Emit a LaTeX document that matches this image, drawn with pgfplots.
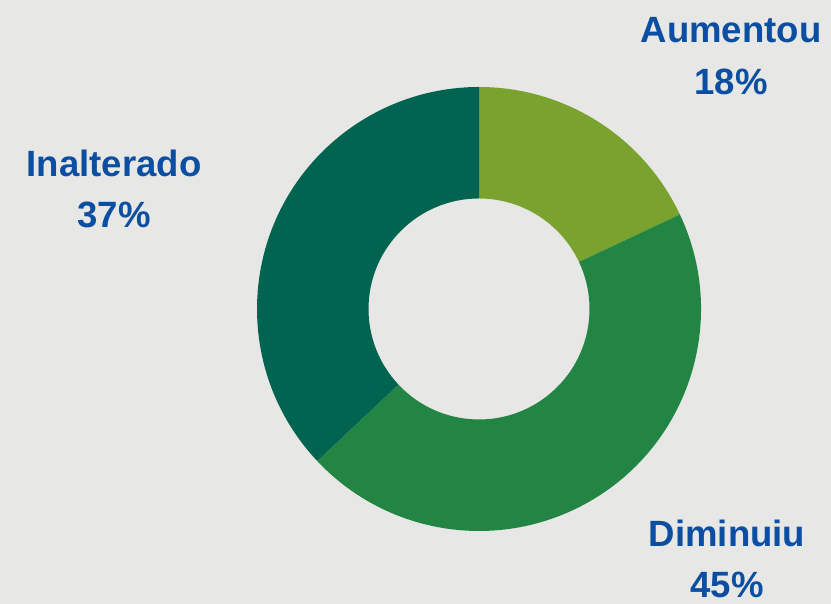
\documentclass[border=0pt]{standalone}
\usepackage{pgfplots}
\pgfplotsset{compat=1.18}
\usepackage{fontspec}
\setmainfont{Liberation Sans}
\definecolor{bg}{HTML}{E7E7E5}
\definecolor{cA}{HTML}{7AA22F}
\definecolor{cD}{HTML}{238544}
\definecolor{cI}{HTML}{006450}
\definecolor{tb}{HTML}{0B4EA2}
% values (percent)
\def\vA{18}\def\vD{45}\def\vI{37}
\pgfmathsetmacro\aS{90}
\pgfmathsetmacro\aA{90-3.6*\vA}
\pgfmathsetmacro\aD{\aA-3.6*\vD}
\pgfmathsetmacro\aI{\aD-3.6*\vI}
\def\cx{479}\def\cy{295}\def\ro{222}\def\ri{110.5}
\newcommand{\seg}[3]{%
  \fill[#1] (axis cs:{\cx+\ro*cos(#2)},{\cy+\ro*sin(#2)}) arc[start angle=#2, end angle=#3, radius=2.22cm]
    -- (axis cs:{\cx+\ri*cos(#3)},{\cy+\ri*sin(#3)}) arc[start angle=#3, end angle=#2, radius=1.105cm] -- cycle;}
\begin{document}
\begin{tikzpicture}
\begin{axis}[
  width=8.31cm, height=6.04cm, scale only axis,
  xmin=0, xmax=831, ymin=0, ymax=604,
  hide axis, clip=false,
]
\fill[bg] (axis cs:0,0) rectangle (axis cs:831,604);
\seg{cA}{\aS}{\aA}
\seg{cD}{\aA}{\aD}
\seg{cI}{\aD}{\aI}
\begin{scope}[every node/.style={text=tb, font=\fontsize{10.4}{12.5}\selectfont\bfseries, align=center, inner sep=0pt}]
\node at (axis cs:731,574) {Aumentou};
\node at (axis cs:731,522) {\vA\%};
\node at (axis cs:114,441) {Inalterado};
\node at (axis cs:114,389) {\vI\%};
\node at (axis cs:727,71) {Diminuiu};
\node at (axis cs:727,19) {\vD\%};
\end{scope}
\end{axis}
\end{tikzpicture}
\end{document}
